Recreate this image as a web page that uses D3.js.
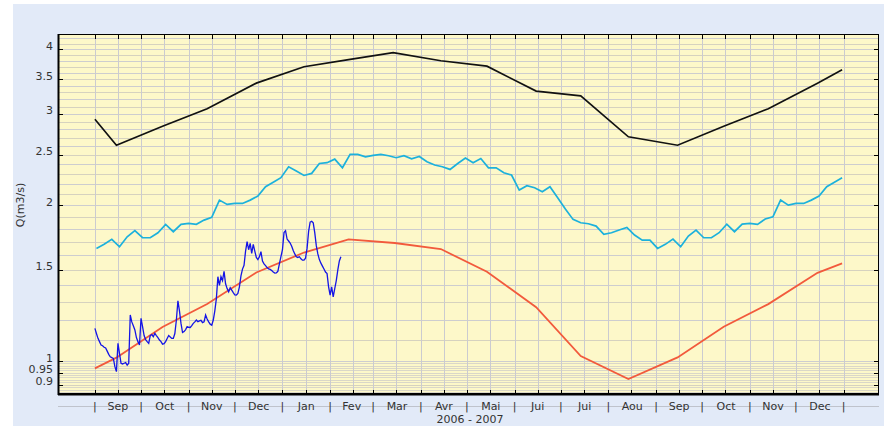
<!DOCTYPE html>
<html><head><meta charset="utf-8">
<script src="https://cdn.jsdelivr.net/npm/d3@7"></script>
<style>
html,body{margin:0;padding:0;background:#ffffff;}
svg{display:block;font-family:"DejaVu Sans",sans-serif;}
</style>
</head><body>
<svg id="chart" width="896" height="426"></svg>
<script>
// ---------- DATA ----------
const monthLabels = ["Sep","Oct","Nov","Dec","Jan","Fev","Mar","Avr","Mai","Jui","Jui","Aou","Sep","Oct","Nov","Dec"];
const periodLabel = "2006 - 2007";
const yLabel = "Q(m3/s)";
const yTicks = [4, 3.5, 3, 2.5, 2, 1.5, 1, 0.95, 0.9];

const maxDates  = ["2006-09-01","2006-09-15","2006-10-15","2006-11-13","2006-12-15","2007-01-15","2007-02-13","2007-03-14","2007-04-14","2007-05-14","2007-06-15","2007-07-14","2007-08-14","2007-09-15","2007-10-15","2007-11-13","2007-12-15","2007-12-31"];
const maxValues = [2.93, 2.61, 2.84, 3.07, 3.44, 3.70, 3.82, 3.94, 3.80, 3.71, 3.32, 3.25, 2.71, 2.61, 2.84, 3.07, 3.44, 3.65];

const minDates  = ["2006-09-01","2006-09-15","2006-10-15","2006-11-13","2006-12-15","2007-01-15","2007-02-13","2007-03-15","2007-04-14","2007-05-14","2007-06-15","2007-07-14","2007-08-14","2007-09-15","2007-10-15","2007-11-13","2007-12-15","2007-12-31"];
const minValues = [0.968, 1.015, 1.163, 1.288, 1.482, 1.62, 1.717, 1.69, 1.645, 1.487, 1.27, 1.022, 0.923, 1.016, 1.165, 1.288, 1.48, 1.544];

// mean flow, one value every 5 days starting 2006-09-02
const meanStart = "2006-09-02";
const meanValues = [
 1.650,1.680,1.718,1.662,1.737,1.785,1.730,1.730,1.769,1.836,
 1.777,1.836,1.844,1.836,1.871,1.894,2.045,2.006,2.015,2.015,
 2.045,2.082,2.170,2.213,2.259,2.372,2.327,2.282,2.303,2.407,
 2.415,2.454,2.361,2.506,2.506,2.479,2.495,2.506,2.491,2.469,
 2.491,2.457,2.483,2.425,2.390,2.372,2.344,2.407,2.465,2.415,
 2.460,2.360,
 2.361,2.309,2.286,2.138,2.180,2.161,2.122,2.170,2.066,1.965,
 1.877,1.849,1.841,1.822,1.756,1.769,1.790,1.811,1.751,1.712,
 1.712,1.650,1.680,1.720,1.662,1.743,1.790,1.730,1.730,1.769,
 1.838,1.777,1.838,1.844,1.836,1.880,1.899,2.045,2.000,2.015,
 2.015,2.045,2.082,2.170,2.213,2.259];

// observed daily flow starting 2006-09-01
const obsStart = "2006-09-01";
const obsValues = [
 1.156,1.13,1.106,1.09,1.074,1.070,1.063,1.060,1.045,1.03,
 1.019,1.015,1.012,0.975,0.954,1.082,1.035,0.990,0.987,0.99,
 0.993,0.982,0.99,1.227,1.19,1.17,1.148,1.11,1.09,1.074,
 1.209,1.165,1.12,1.10,1.090,1.082,1.12,1.125,1.114,1.131,
 1.12,1.11,1.098,1.09,1.078,1.08,1.09,1.105,1.12,1.113,
 1.106,1.106,1.13,1.20,1.307,1.25,1.182,1.135,1.14,1.15,
 1.165,1.162,1.161,1.17,1.182,1.19,1.2,1.191,1.195,1.198,
 1.186,1.19,1.227,1.205,1.19,1.178,1.173,1.2,1.25,1.32,
 1.455,1.40,1.455,1.43,1.49,1.41,1.38,1.36,1.385,1.37,
 1.355,1.342,1.341,1.35,1.391,1.46,1.505,1.53,1.63,1.70,
 1.64,1.687,1.614,1.68,1.63,1.585,1.57,1.59,1.626,1.56,
 1.54,1.528,1.515,1.506,1.503,1.495,1.485,1.478,1.48,1.49,
 1.54,1.59,1.64,1.77,1.785,1.72,1.705,1.69,1.665,1.635,
 1.61,1.59,1.585,1.59,1.575,1.566,1.566,1.58,1.65,1.78,
 1.855,1.862,1.848,1.77,1.67,1.61,1.57,1.545,1.525,1.505,
 1.485,1.475,1.391,1.341,1.39,1.33,1.38,1.43,1.50,1.56,
 1.59];

// ---------- LAYOUT ----------
const parse = d3.utcParse("%Y-%m-%d");
const svg = d3.select("#chart");
const L = 58, R = 879, T = 34, B = 394;
const xDomain = [parse("2006-08-08"), parse("2008-01-24")];
const gridStart = parse("2006-09-01"), gridEnd = parse("2008-01-01");

const x = d3.scaleUtc().domain(xDomain).range([L, R]);
const y = d3.scaleLog().domain([0.8636, 4.28]).range([B, T]);

// panel background
svg.append("rect").attr("x", 13).attr("y", 4).attr("width", 871).attr("height", 422).attr("fill", "#e2eaf8");
svg.append("rect").attr("x", L).attr("y", T).attr("width", R - L).attr("height", B - T).attr("fill", "#fdf8c9");

// horizontal grid
const gridH = svg.append("g");
const fineVals = d3.range(87, 100).map(v => v / 100);
gridH.selectAll("line.f").data(fineVals).join("line")
  .attr("x1", L).attr("x2", R).attr("y1", d => Math.round(y(d)) + 0.5).attr("y2", d => Math.round(y(d)) + 0.5)
  .attr("stroke", "#dad7c8").attr("stroke-width", 1);
const coarseVals = d3.range(9, 43).map(v => v / 10);
gridH.selectAll("line.c").data(coarseVals).join("line")
  .attr("x1", L).attr("x2", R).attr("y1", d => Math.round(y(d)) + 0.5).attr("y2", d => Math.round(y(d)) + 0.5)
  .attr("stroke", (d, i) => i % 2 ? "#cdcdcf" : "#d6d2bf").attr("stroke-width", 1);

// vertical grid (1st and 16th of each month)
const months = d3.utcMonth.range(gridStart, gridEnd);
const vDates = [];
months.forEach(m => { vDates.push(m); vDates.push(d3.utcDay.offset(m, 15)); });
vDates.push(gridEnd);
svg.append("g").selectAll("line").data(vDates).join("line")
  .attr("x1", d => Math.round(x(d)) + 0.5).attr("x2", d => Math.round(x(d)) + 0.5)
  .attr("y1", T).attr("y2", B)
  .attr("stroke", "#cbcbd0").attr("stroke-width", 1);

// ---------- LINES ----------
const line = d3.line().x(d => x(d.date)).y(d => y(d.value));

const maxData = maxDates.map((d, i) => ({date: parse(d), value: maxValues[i]}));
const minData = minDates.map((d, i) => ({date: parse(d), value: minValues[i]}));
const meanData = meanValues.map((v, i) => ({date: d3.utcDay.offset(parse(meanStart), 5 * i), value: v}));
const obsData = obsValues.map((v, i) => ({date: d3.utcDay.offset(parse(obsStart), i), value: v}));

svg.append("path").datum(maxData).attr("d", line).attr("fill", "none").attr("stroke", "#111").attr("stroke-width", 1.7);
svg.append("path").datum(meanData).attr("d", line).attr("fill", "none").attr("stroke", "#1cb1dc").attr("stroke-width", 1.7);
svg.append("path").datum(minData).attr("d", line).attr("fill", "none").attr("stroke", "#f25a3c").attr("stroke-width", 1.8);
svg.append("path").datum(obsData).attr("d", line).attr("fill", "none").attr("stroke", "#1414e6").attr("stroke-width", 1.3);

// ---------- FRAME & TICKS ----------
svg.append("rect").attr("x", L + 0.5).attr("y", T + 0.5).attr("width", R - L - 1).attr("height", B - T - 1)
  .attr("fill", "none").attr("stroke", "#000").attr("stroke-width", 1);
svg.append("line").attr("x1", L + 0.5).attr("x2", L + 0.5).attr("y1", T).attr("y2", B + 1).attr("stroke", "#000").attr("stroke-width", 2);
svg.append("line").attr("x1", L).attr("x2", R).attr("y1", B + 0.5).attr("y2", B + 0.5).attr("stroke", "#000").attr("stroke-width", 2);

const tickG = svg.append("g").attr("stroke", "#000").attr("stroke-width", 1);
tickG.selectAll("line.t").data(vDates).join("line")
  .attr("x1", d => Math.round(x(d)) + 0.5).attr("x2", d => Math.round(x(d)) + 0.5)
  .attr("y1", T).attr("y2", T + 5);
tickG.selectAll("line.b").data(vDates).join("line")
  .attr("x1", d => Math.round(x(d)) + 0.5).attr("x2", d => Math.round(x(d)) + 0.5)
  .attr("y1", B - 4).attr("y2", B);
tickG.selectAll("line.l").data(yTicks).join("line")
  .attr("x1", L).attr("x2", L + 5).attr("y1", d => Math.round(y(d)) + 0.5).attr("y2", d => Math.round(y(d)) + 0.5);
tickG.selectAll("line.r").data(yTicks).join("line")
  .attr("x1", R - 5).attr("x2", R).attr("y1", d => Math.round(y(d)) + 0.5).attr("y2", d => Math.round(y(d)) + 0.5);

// y tick labels
svg.append("g").selectAll("text").data(yTicks).join("text")
  .attr("x", 53).attr("y", d => y(d) + 0.5)
  .attr("text-anchor", "end").attr("font-size", 11).attr("fill", "#333")
  .text(d => d3.format("")(d));

// y axis title
svg.append("text").attr("transform", "translate(24,205) rotate(-90)")
  .attr("text-anchor", "middle").attr("font-size", 11).attr("fill", "#333").text(yLabel);

// x axis: baseline rule, pipes and month names
svg.append("line").attr("x1", L).attr("x2", R).attr("y1", 406.5).attr("y2", 406.5).attr("stroke", "#bfc3cc").attr("stroke-width", 1);
const pipeDates = months.concat([gridEnd]);
svg.append("g").selectAll("text").data(pipeDates).join("text")
  .attr("x", d => x(d)).attr("y", 410).attr("text-anchor", "middle")
  .attr("font-size", 11).attr("fill", "#333").text("|");
svg.append("g").selectAll("text").data(months).join("text")
  .attr("x", (d, i) => (x(d) + x(d3.utcMonth.offset(d, 1))) / 2).attr("y", 410)
  .attr("text-anchor", "middle").attr("font-size", 11).attr("fill", "#333")
  .text((d, i) => monthLabels[i]);
svg.append("text").attr("x", 470).attr("y", 423).attr("text-anchor", "middle")
  .attr("font-size", 11).attr("fill", "#333").text(periodLabel);
</script>
</body></html>
